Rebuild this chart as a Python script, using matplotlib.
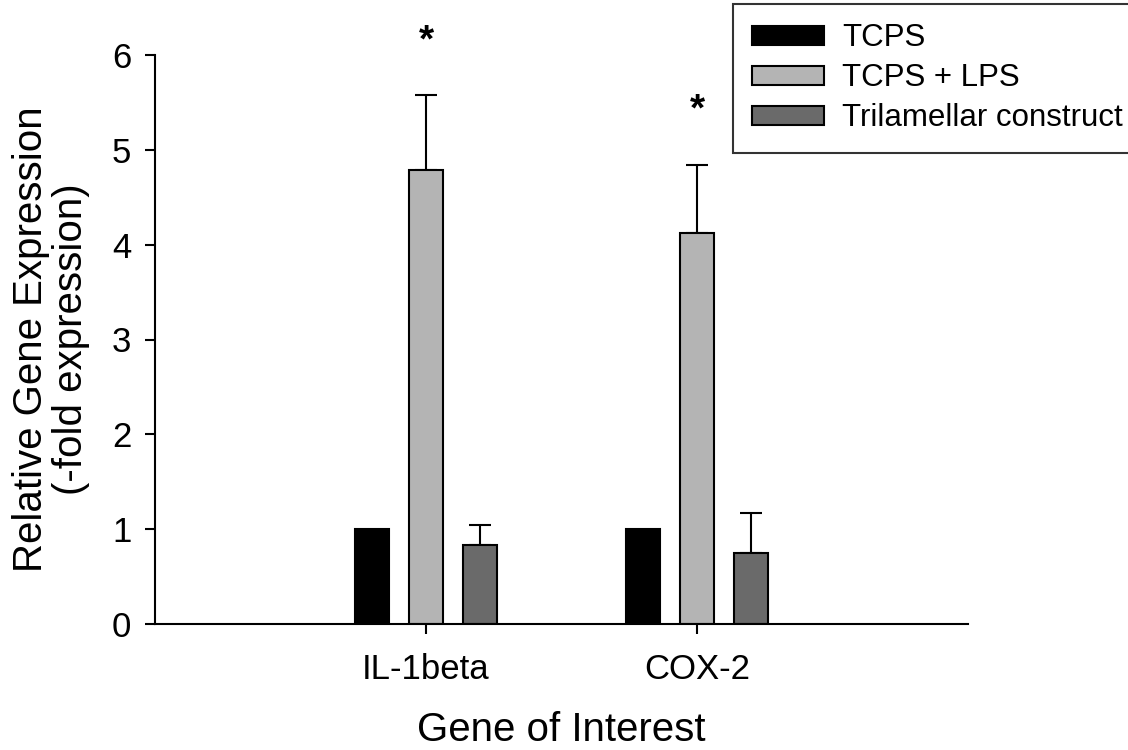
import numpy as np
import matplotlib
matplotlib.use("Agg")
from matplotlib import pyplot as plt

# data
genes = ["IL-1beta", "COX-2"]
series = ["TCPS", "TCPS + LPS", "Trilamellar construct"]
tcps = [1.0, 1.0]
tcps_lps = [4.79, 4.12]
trilamellar = [0.83, 0.75]
tcps_err = [0.0, 0.0]
tcps_lps_err = [0.79, 0.72]
trilamellar_err = [0.21, 0.42]
star_y = [6.14, 5.42]

plt.rcParams['font.family'] = ['Liberation Sans', 'DejaVu Sans']

fig = plt.figure(figsize=(11.28, 7.5), dpi=100)
ax = fig.add_axes([155/1128, 126/750, 813/1128, 569/750])

x = np.arange(1, len(genes) + 1)
width = 0.125
offset = 0.2
colors = ["#000000", "#b4b4b4", "#6a6a6a"]
values = [tcps, tcps_lps, trilamellar]
errors = [tcps_err, tcps_lps_err, trilamellar_err]

for i in range(len(series)):
    pos = x + (i - 1) * offset
    ax.bar(pos, values[i], width, color=colors[i], edgecolor="black",
           linewidth=1.5, label=series[i], zorder=2)
    err = np.array(errors[i])
    if err.any():
        ax.errorbar(pos, values[i], yerr=[np.zeros_like(err), err], fmt="none",
                    ecolor="black", elinewidth=1.5, capsize=8, capthick=1.5,
                    zorder=1)

for xi, yi in zip(x, star_y):
    ax.text(xi, yi, "*", ha="center", va="center", fontsize=28,
            fontweight="bold", clip_on=False)

ax.set_xlim(0, 3)
ax.set_ylim(0, 6)
ax.set_xticks(x)
ax.set_xticklabels(genes)
ax.set_yticks(range(0, 7))
ax.tick_params(axis="both", labelsize=25, direction="out", width=1.5, length=7)
ax.tick_params(axis="x", pad=14)
ax.tick_params(axis="y", pad=10)
ax.spines["top"].set_visible(False)
ax.spines["right"].set_visible(False)
ax.spines["left"].set_linewidth(1.5)
ax.spines["bottom"].set_linewidth(1.5)

ax.set_xlabel("Gene of Interest", fontsize=29, labelpad=18)
ax.set_ylabel("Relative Gene Expression\n(-fold expression)", fontsize=29,
              labelpad=16, linespacing=1.05)

leg = fig.legend(loc="upper left", bbox_to_anchor=(733/1128, 1 - 4/750),
                 fontsize=22.5, frameon=True, fancybox=False, edgecolor="black",
                 handlelength=2.3, handleheight=0.55, handletextpad=0.58,
                 labelspacing=0.32, borderpad=0.62, borderaxespad=0)
leg.get_frame().set_linewidth(1.5)

fig.savefig("out.png", dpi=100)
